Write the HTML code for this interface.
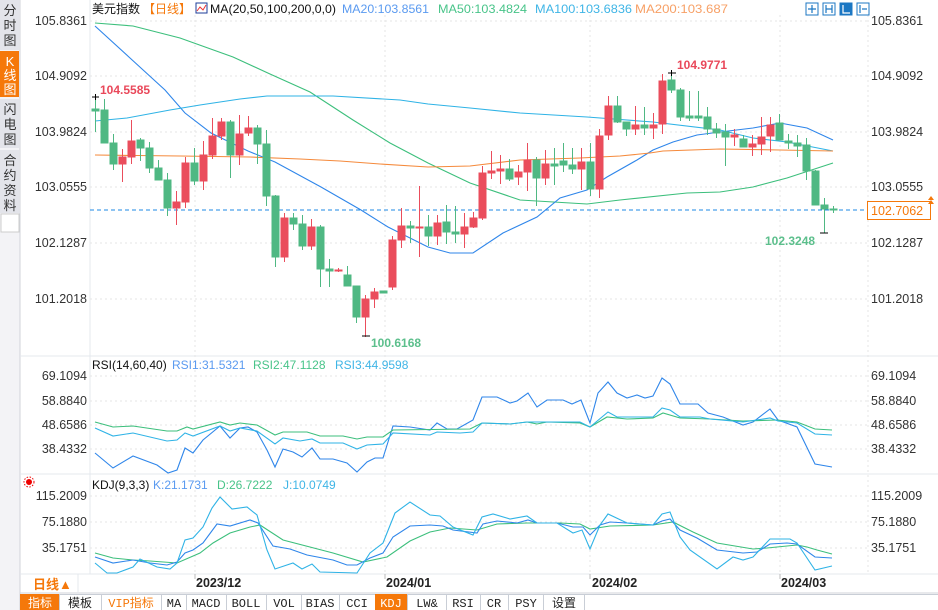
<!DOCTYPE html>
<html><head><meta charset="utf-8"><style>
html,body{margin:0;padding:0;background:#fff;}
body{width:938px;height:610px;overflow:hidden;position:relative;font-family:"Liberation Sans","Noto Sans CJK SC",sans-serif;}
svg{position:absolute;left:0;top:0;}
</style></head><body>
<svg width="938" height="610" viewBox="0 0 938 610" xmlns="http://www.w3.org/2000/svg" font-family="Liberation Sans, Noto Sans CJK SC, sans-serif">
<!-- sidebar -->
<rect x="0" y="0" width="20" height="610" fill="#f3f3f6"/>
<rect x="0" y="0" width="19" height="50" fill="#e3e4ea"/>
<rect x="0" y="51" width="19" height="46" fill="#f5780a"/>
<rect x="0" y="99" width="19" height="49" fill="#e3e4ea"/>
<rect x="0" y="150" width="19" height="63" fill="#e3e4ea"/>
<rect x="1" y="214" width="18" height="18" fill="#fff" stroke="#ccc"/>
<g font-size="13" fill="#333" text-anchor="middle">
<text x="10" y="15">分</text><text x="10" y="30">时</text><text x="10" y="45">图</text>
<text x="10" y="66" fill="#fff">K</text><text x="10" y="80" fill="#fff">线</text><text x="10" y="94" fill="#fff">图</text>
<text x="10" y="114">闪</text><text x="10" y="129">电</text><text x="10" y="144">图</text>
<text x="10" y="165">合</text><text x="10" y="180">约</text><text x="10" y="195">资</text><text x="10" y="210">料</text>
</g>
<line x1="20" y1="0" x2="20" y2="610" stroke="#d0d3da"/>
<!-- panel frames -->
<line x1="90" y1="0" x2="90" y2="574" stroke="#e4e8ee"/>
<line x1="20" y1="356" x2="938" y2="356" stroke="#e4e8ee"/>
<line x1="20" y1="474" x2="938" y2="474" stroke="#e4e8ee"/>
<line x1="20" y1="574" x2="938" y2="574" stroke="#e4e8ee"/>
<line x1="20" y1="593" x2="938" y2="593" stroke="#d0d3da"/>
<line x1="78" y1="574" x2="78" y2="593" stroke="#e4e8ee"/>
<!-- grid -->
<g stroke="#e6e6e6" stroke-dasharray="2,3">
<line x1="90" y1="21" x2="868" y2="21"/><line x1="90" y1="76" x2="868" y2="76"/><line x1="90" y1="132" x2="868" y2="132"/><line x1="90" y1="187" x2="868" y2="187"/><line x1="90" y1="243" x2="868" y2="243"/><line x1="90" y1="299" x2="868" y2="299"/>
<line x1="90" y1="376" x2="868" y2="376"/><line x1="90" y1="401" x2="868" y2="401"/><line x1="90" y1="425" x2="868" y2="425"/><line x1="90" y1="449" x2="868" y2="449"/>
<line x1="90" y1="496" x2="868" y2="496"/><line x1="90" y1="522" x2="868" y2="522"/><line x1="90" y1="548" x2="868" y2="548"/>
<line x1="195" y1="15" x2="195" y2="574"/><line x1="385" y1="15" x2="385" y2="574"/><line x1="590" y1="15" x2="590" y2="574"/><line x1="780" y1="15" x2="780" y2="574"/>
<line x1="868" y1="15" x2="868" y2="574"/>
</g>
<!-- axis labels -->
<g font-size="12.5" fill="#333">
<g text-anchor="end">
<text x="87" y="25">105.8361</text><text x="87" y="80">104.9092</text><text x="87" y="136">103.9824</text><text x="87" y="191">103.0555</text><text x="87" y="247">102.1287</text><text x="87" y="303">101.2018</text>
<text x="87" y="380">69.1094</text><text x="87" y="405">58.8840</text><text x="87" y="429">48.6586</text><text x="87" y="453">38.4332</text>
<text x="87" y="500">115.2009</text><text x="87" y="526">75.1880</text><text x="87" y="552">35.1751</text>
</g>
<text x="871" y="25">105.8361</text><text x="871" y="80">104.9092</text><text x="871" y="136">103.9824</text><text x="871" y="191">103.0555</text><text x="871" y="247">102.1287</text><text x="871" y="303">101.2018</text>
<text x="871" y="380">69.1094</text><text x="871" y="405">58.8840</text><text x="871" y="429">48.6586</text><text x="871" y="453">38.4332</text>
<text x="871" y="500">115.2009</text><text x="871" y="526">75.1880</text><text x="871" y="552">35.1751</text>
</g>
<!-- header -->
<g font-size="12">
<text x="92" y="13" fill="#111">美元指数</text>
<text x="143" y="13" fill="#f5780a">【日线】</text>
<rect x="196" y="3" width="11" height="10" fill="#fff" stroke="#1e3c9a"/>
<polyline points="197,11 200,7 203,10 206,5" fill="none" stroke="#e33" stroke-width="1"/>
<text x="210" y="13" fill="#111" textLength="126" lengthAdjust="spacingAndGlyphs">MA(20,50,100,200,0,0)</text>
<text x="342" y="13" fill="#5a9af0" textLength="87" lengthAdjust="spacingAndGlyphs">MA20:103.8561</text>
<text x="438" y="13" fill="#48c489" textLength="89" lengthAdjust="spacingAndGlyphs">MA50:103.4824</text>
<text x="535" y="13" fill="#3fb5e6" textLength="97" lengthAdjust="spacingAndGlyphs">MA100:103.6836</text>
<text x="635" y="13" fill="#f7a066" textLength="93" lengthAdjust="spacingAndGlyphs">MA200:103.687</text>
</g>
<g fill="#fff" stroke="#1c77c3">
<rect x="806" y="3" width="12" height="12"/><rect x="823" y="3" width="12" height="12"/><rect x="840" y="3" width="12" height="12" fill="#1c77c3"/><rect x="857" y="3" width="12" height="12"/>
</g>
<g stroke="#1c77c3" stroke-width="1.2" fill="none"><path d="M812 5v8M808 9h8"/><path d="M826 5v8M832 5v8M826 9h6"/><path d="M843 5v8h7" stroke="#fff"/><path d="M860 5v8M862 9h5"/></g>
<g font-size="12">
<text x="92" y="369" fill="#111">RSI(14,60,40)</text>
<text x="172" y="369" fill="#5a9af0">RSI1:31.5321</text>
<text x="253" y="369" fill="#48c489">RSI2:47.1128</text>
<text x="335" y="369" fill="#3fb5e6">RSI3:44.9598</text>
<text x="92" y="489" fill="#111">KDJ(9,3,3)</text>
<text x="153" y="489" fill="#5a9af0">K:21.1731</text>
<text x="217" y="489" fill="#48c489">D:26.7222</text>
<text x="283" y="489" fill="#3fb5e6">J:10.0749</text>
</g>
<circle cx="29" cy="482" r="3" fill="#e00"/><circle cx="29" cy="482" r="5" fill="none" stroke="#e00" stroke-dasharray="1.5,1.5"/>
<!-- MA lines -->
<g fill="none" stroke-width="1.1">
<polyline stroke="#3cbf7c" points="95,23 133,26 180,38 233,57 270,74 310,92 353,120 390,143 428,163 470,183 520,200 587,204 620,200 687,193 720,192 753,187 787,178 833,163"/>
<polyline stroke="#2f86ea" points="95,26 130,58 165,90 185,113 211,133 248,151 275,162 321,187 361,210 388,227 428,247 450,253 473,253 503,233 537,217 560,198 587,190 607,177 637,160 653,150 673,142 697,135 720,132 753,128 780,123 807,128 833,140"/>
<polyline stroke="#2fb3e6" points="95,121 127,118 170,110 200,105 240,99 267,96 333,96 400,100 428,104 470,108 520,113 587,117 653,122 720,130 753,138 787,142 833,151"/>
<polyline stroke="#f58a3c" points="95,155 180,156 250,157 300,159 340,161 380,164 428,167 470,166 520,160 580,158 620,156 650,153 663,151 720,149 780,150 833,151"/>
</g>
<line x1="90" y1="210" x2="868" y2="210" stroke="#1e88e5" stroke-dasharray="4,3"/>
<!-- candles -->
<g stroke-width="1">
<g fill="#4fb883" stroke="#4fb883">
<line x1="95.5" y1="97" x2="95.5" y2="132"/><rect x="92" y="109" width="7" height="2"/>
<line x1="104.5" y1="99" x2="104.5" y2="143"/><rect x="101" y="110" width="7" height="33"/>
<line x1="113.5" y1="134" x2="113.5" y2="170"/><rect x="110" y="143" width="7" height="21"/>
<line x1="140.5" y1="138" x2="140.5" y2="161"/><rect x="137" y="140" width="7" height="8"/>
<line x1="149.5" y1="142" x2="149.5" y2="173"/><rect x="146" y="148" width="7" height="20"/>
<line x1="158.5" y1="160" x2="158.5" y2="180"/><rect x="155" y="168" width="7" height="12"/>
<line x1="167.5" y1="173" x2="167.5" y2="216"/><rect x="164" y="180" width="7" height="28"/>
<line x1="194.5" y1="148" x2="194.5" y2="185"/><rect x="191" y="163" width="7" height="18"/>
<line x1="230.5" y1="120" x2="230.5" y2="178"/><rect x="227" y="122" width="7" height="33"/>
<line x1="257.5" y1="125" x2="257.5" y2="164"/><rect x="254" y="128" width="7" height="16"/>
<line x1="266.5" y1="130" x2="266.5" y2="206"/><rect x="263" y="144" width="7" height="52"/>
<line x1="275.5" y1="195" x2="275.5" y2="267"/><rect x="272" y="196" width="7" height="61"/>
<line x1="293.5" y1="213" x2="293.5" y2="230"/><rect x="290" y="218" width="7" height="6"/>
<line x1="302.5" y1="215" x2="302.5" y2="250"/><rect x="299" y="224" width="7" height="22"/>
<line x1="320.5" y1="225" x2="320.5" y2="287"/><rect x="317" y="227" width="7" height="42"/>
<line x1="329.5" y1="259" x2="329.5" y2="287"/><rect x="326" y="269" width="7" height="2"/>
<line x1="347.5" y1="266" x2="347.5" y2="286"/><rect x="344" y="275" width="7" height="11"/>
<line x1="356.5" y1="286" x2="356.5" y2="323"/><rect x="353" y="286" width="7" height="31"/>
<rect x="380" y="291" width="7" height="2"/>
<line x1="410.5" y1="221" x2="410.5" y2="243"/><rect x="407" y="226" width="7" height="2"/>
<line x1="428.5" y1="215" x2="428.5" y2="246"/><rect x="425" y="227" width="7" height="9"/>
<line x1="446.5" y1="205" x2="446.5" y2="244"/><rect x="443" y="222" width="7" height="10"/>
<line x1="455.5" y1="206" x2="455.5" y2="243"/><rect x="452" y="232" width="7" height="2"/>
<line x1="509.5" y1="159" x2="509.5" y2="181"/><rect x="506" y="169" width="7" height="10"/>
<line x1="536.5" y1="157" x2="536.5" y2="206"/><rect x="533" y="160" width="7" height="18"/>
<line x1="554.5" y1="148" x2="554.5" y2="185"/><rect x="551" y="164" width="7" height="2"/>
<line x1="563.5" y1="143" x2="563.5" y2="172"/><rect x="560" y="161" width="7" height="4"/>
<line x1="572.5" y1="148" x2="572.5" y2="174"/><rect x="569" y="165" width="7" height="4"/>
<line x1="590.5" y1="143" x2="590.5" y2="196"/><rect x="587" y="162" width="7" height="27"/>
<line x1="617.5" y1="96" x2="617.5" y2="123"/><rect x="614" y="106" width="7" height="16"/>
<line x1="626.5" y1="122" x2="626.5" y2="136"/><rect x="623" y="122" width="7" height="7"/>
<line x1="644.5" y1="107" x2="644.5" y2="135"/><rect x="641" y="125" width="7" height="3"/>
<line x1="671.5" y1="73" x2="671.5" y2="93"/><rect x="668" y="80" width="7" height="10"/>
<line x1="680.5" y1="88" x2="680.5" y2="121"/><rect x="677" y="90" width="7" height="27"/>
<line x1="689.5" y1="91" x2="689.5" y2="121"/><rect x="686" y="116" width="7" height="2"/>
<line x1="698.5" y1="91" x2="698.5" y2="121"/><rect x="695" y="116" width="7" height="2"/>
<line x1="707.5" y1="107" x2="707.5" y2="135"/><rect x="704" y="117" width="7" height="12"/>
<line x1="716.5" y1="123" x2="716.5" y2="138"/><rect x="713" y="129" width="7" height="4"/>
<line x1="725.5" y1="124" x2="725.5" y2="166"/><rect x="722" y="132" width="7" height="5"/>
<line x1="743.5" y1="135" x2="743.5" y2="147"/><rect x="740" y="139" width="7" height="8"/>
<line x1="779.5" y1="114" x2="779.5" y2="140"/><rect x="776" y="123" width="7" height="17"/>
<line x1="788.5" y1="134" x2="788.5" y2="149"/><rect x="785" y="141" width="7" height="2"/>
<line x1="797.5" y1="135" x2="797.5" y2="157"/><rect x="794" y="143" width="7" height="3"/>
<line x1="806.5" y1="138" x2="806.5" y2="180"/><rect x="803" y="145" width="7" height="26"/>
<line x1="815.5" y1="170" x2="815.5" y2="205"/><rect x="812" y="171" width="7" height="34"/>
<line x1="824.5" y1="198" x2="824.5" y2="233"/><rect x="821" y="205" width="7" height="4"/>
<line x1="833.5" y1="206" x2="833.5" y2="213"/><rect x="830" y="209" width="7" height="1"/>
</g>
<g fill="#ea4d5c" stroke="#ea4d5c">
<line x1="122.5" y1="149" x2="122.5" y2="182"/><rect x="119" y="157" width="7" height="7"/>
<line x1="131.5" y1="120" x2="131.5" y2="164"/><rect x="128" y="141" width="7" height="16"/>
<line x1="176.5" y1="191" x2="176.5" y2="225"/><rect x="173" y="202" width="7" height="6"/>
<line x1="185.5" y1="157" x2="185.5" y2="208"/><rect x="182" y="163" width="7" height="39"/>
<line x1="203.5" y1="141" x2="203.5" y2="190"/><rect x="200" y="155" width="7" height="26"/>
<line x1="212.5" y1="118" x2="212.5" y2="159"/><rect x="209" y="136" width="7" height="19"/>
<line x1="221.5" y1="118" x2="221.5" y2="140"/><rect x="218" y="122" width="7" height="14"/>
<line x1="239.5" y1="115" x2="239.5" y2="165"/><rect x="236" y="134" width="7" height="21"/>
<line x1="248.5" y1="116" x2="248.5" y2="136"/><rect x="245" y="128" width="7" height="5"/>
<line x1="284.5" y1="213" x2="284.5" y2="262"/><rect x="281" y="218" width="7" height="39"/>
<line x1="311.5" y1="219" x2="311.5" y2="250"/><rect x="308" y="227" width="7" height="19"/>
<line x1="338.5" y1="268" x2="338.5" y2="272"/><rect x="335" y="270" width="7" height="1"/>
<line x1="365.5" y1="295" x2="365.5" y2="337"/><rect x="362" y="299" width="7" height="18"/>
<line x1="374.5" y1="288" x2="374.5" y2="308"/><rect x="371" y="292" width="7" height="7"/>
<line x1="392.5" y1="236" x2="392.5" y2="290"/><rect x="389" y="240" width="7" height="47"/>
<line x1="401.5" y1="208" x2="401.5" y2="248"/><rect x="398" y="226" width="7" height="14"/>
<line x1="419.5" y1="186" x2="419.5" y2="257"/><rect x="416" y="227" width="7" height="1"/>
<line x1="437.5" y1="215" x2="437.5" y2="245"/><rect x="434" y="223" width="7" height="13"/>
<line x1="464.5" y1="213" x2="464.5" y2="248"/><rect x="461" y="227" width="7" height="7"/>
<line x1="473.5" y1="212" x2="473.5" y2="228"/><rect x="470" y="218" width="7" height="9"/>
<line x1="482.5" y1="166" x2="482.5" y2="220"/><rect x="479" y="173" width="7" height="45"/>
<line x1="491.5" y1="151" x2="491.5" y2="179"/><rect x="488" y="171" width="7" height="2"/>
<line x1="500.5" y1="155" x2="500.5" y2="184"/><rect x="497" y="169" width="7" height="2"/>
<line x1="518.5" y1="165" x2="518.5" y2="185"/><rect x="515" y="172" width="7" height="5"/>
<line x1="527.5" y1="143" x2="527.5" y2="191"/><rect x="524" y="160" width="7" height="12"/>
<line x1="545.5" y1="150" x2="545.5" y2="185"/><rect x="542" y="164" width="7" height="14"/>
<line x1="581.5" y1="148" x2="581.5" y2="190"/><rect x="578" y="162" width="7" height="7"/>
<line x1="599.5" y1="129" x2="599.5" y2="198"/><rect x="596" y="136" width="7" height="53"/>
<line x1="608.5" y1="96" x2="608.5" y2="140"/><rect x="605" y="106" width="7" height="29"/>
<line x1="635.5" y1="106" x2="635.5" y2="135"/><rect x="632" y="125" width="7" height="4"/>
<line x1="653.5" y1="113" x2="653.5" y2="139"/><rect x="650" y="125" width="7" height="3"/>
<line x1="662.5" y1="74" x2="662.5" y2="134"/><rect x="659" y="81" width="7" height="43"/>
<line x1="734.5" y1="129" x2="734.5" y2="146"/><rect x="731" y="135" width="7" height="2"/>
<line x1="752.5" y1="135" x2="752.5" y2="156"/><rect x="749" y="144" width="7" height="3"/>
<line x1="761.5" y1="117" x2="761.5" y2="155"/><rect x="758" y="137" width="7" height="7"/>
<line x1="770.5" y1="117" x2="770.5" y2="152"/><rect x="767" y="125" width="7" height="11"/>
</g>
</g>
<!-- markers -->
<g stroke="#000" stroke-width="1"><path d="M92 97h7M95.5 94v6"/><path d="M362 336h8"/><path d="M668 73h8M671.5 70v6"/><path d="M820 233h8"/></g>
<g font-size="12" font-weight="bold">
<text x="100" y="94" fill="#e9485a">104.5585</text>
<text x="371" y="347" fill="#5cbf8c">100.6168</text>
<text x="677" y="69" fill="#e9485a">104.9771</text>
<text x="765" y="245" fill="#5cbf8c">102.3248</text>
</g>
<rect x="867.5" y="201.5" width="63" height="18" fill="#fff" stroke="#f5780a"/>
<text x="871" y="215" font-size="12.5" fill="#f5780a">102.7062</text>
<path d="M928 200l3-4 3 4zM928 204l3-4 3 4z" fill="#f5780a"/>
<!-- RSI -->
<g fill="none" stroke-width="1.1">
<polyline stroke="#2f86ea" points="95,453 113,468 133,456 157,465 168,473 177,470 185,448 193,453 203,440 220,426 230,438 240,428 248,427 257,432 267,450 275,467 283,449 293,452 302,457 312,448 320,459 333,459 347,463 357,472 367,462 375,458 383,458 393,426 410,427 430,430 437,423 447,429 457,429 473,420 482,397 497,397 510,403 517,401 528,393 537,407 547,400 563,400 572,404 581,400 590,423 598,393 608,382 617,393 627,398 637,395 645,398 653,396 662,378 670,384 680,404 698,404 708,413 723,417 743,425 753,422 770,409 778,420 797,427 815,464 832,467"/>
<polyline stroke="#3cbf7c" points="95,422 113,427 133,426 167,431 177,431 187,427 193,429 220,422 230,425 240,423 257,425 275,435 283,432 307,432 320,436 343,436 357,439 367,437 383,437 393,430 470,429 482,423 510,424 527,422 537,424 547,422 580,423 590,427 607,417 627,419 653,418 663,413 680,418 710,419 743,421 777,420 797,422 815,429 832,430"/>
<polyline stroke="#2fb3e6" points="95,428 113,436 133,433 167,441 177,440 185,433 193,436 220,426 230,431 240,428 257,431 275,444 283,438 300,441 312,439 320,443 343,443 357,449 367,445 383,444 393,433 430,435 437,432 460,433 473,432 482,423 510,424 527,422 580,422 590,427 608,412 617,417 653,417 662,408 670,410 680,417 700,417 710,419 743,422 770,418 778,421 797,423 815,434 832,435"/>
</g>
<!-- KDJ -->
<g fill="none" stroke-width="1.1">
<polyline stroke="#3cbf7c" points="95,553 113,558 133,560 150,561 177,563 200,553 213,543 230,533 250,527 260,525 283,540 333,553 363,562 387,557 410,541 430,532 450,528 477,530 497,524 527,523 560,523 580,524 590,529 610,526 653,525 673,522 693,532 717,543 753,549 767,548 797,545 807,547 817,550 832,554"/>
<polyline stroke="#2f86ea" points="95,557 113,563 133,560 150,563 167,565 177,562 185,553 193,550 203,543 217,524 230,526 250,520 258,523 273,546 290,549 307,555 333,560 347,565 357,565 370,558 383,553 393,537 410,526 430,525 443,526 453,530 477,533 483,524 497,521 517,523 528,520 537,523 557,523 573,527 583,527 590,535 600,525 610,522 627,523 640,524 653,525 662,521 670,519 680,530 697,538 717,550 743,553 757,552 770,544 787,543 797,544 815,557 832,558"/>
<polyline stroke="#2fb3e6" points="95,563 107,573 117,573 133,567 140,559 157,567 170,569 177,563 185,540 193,538 203,527 212,508 220,497 232,509 247,507 257,515 267,550 275,569 293,563 302,569 312,564 320,572 357,573 370,553 383,543 395,513 410,502 430,515 440,516 453,527 473,535 482,517 493,514 510,519 527,516 537,523 557,523 573,533 582,530 590,549 600,525 608,514 627,523 653,525 662,514 670,512 680,537 690,550 717,569 733,557 743,560 753,557 770,539 790,539 797,543 815,570 832,566"/>
</g>
<!-- date axis -->
<g font-size="12.5" font-weight="bold" fill="#222">
<text x="196" y="587">2023/12</text><text x="386" y="587">2024/01</text><text x="592" y="587">2024/02</text><text x="781" y="587">2024/03</text>
</g>
<g stroke="#bbb"><path d="M195 574v5M385 574v5M590 574v5M780 574v5"/></g>
<text x="33" y="589" font-size="13" font-weight="bold" fill="#f5780a">日线▲</text>
<!-- toolbar -->
<rect x="20" y="594" width="918" height="16" fill="#fff"/>
<g stroke="#c9ced6" fill="#fff">
<rect x="59.5" y="594.5" width="42" height="16"/><rect x="101.5" y="594.5" width="60" height="16"/><rect x="161.5" y="594.5" width="25" height="16"/><rect x="186.5" y="594.5" width="40" height="16"/><rect x="226.5" y="594.5" width="40" height="16"/><rect x="266.5" y="594.5" width="35" height="16"/><rect x="301.5" y="594.5" width="38" height="16"/><rect x="339.5" y="594.5" width="36" height="16"/><rect x="407.5" y="594.5" width="39" height="16"/><rect x="446.5" y="594.5" width="34" height="16"/><rect x="480.5" y="594.5" width="28" height="16"/><rect x="508.5" y="594.5" width="35" height="16"/><rect x="543.5" y="594.5" width="41" height="16"/><rect x="584.5" y="594.5" width="360" height="16"/>
</g>
<rect x="20" y="594" width="39" height="16" fill="#f5780a"/>
<rect x="375" y="594" width="32" height="16" fill="#f5780a"/>
<g font-size="12" text-anchor="middle" fill="#222" font-family="Liberation Mono, Noto Sans CJK SC, monospace">
<text x="40" y="607" fill="#fff" font-family="Liberation Sans, Noto Sans CJK SC, sans-serif">指标</text>
<text x="80" y="607" font-family="Liberation Sans, Noto Sans CJK SC, sans-serif">模板</text>
<text x="131" y="607" fill="#f5780a">VIP指标</text>
<text x="174" y="607">MA</text><text x="206" y="607">MACD</text><text x="246" y="607">BOLL</text><text x="284" y="607">VOL</text><text x="320" y="607">BIAS</text><text x="357" y="607">CCI</text>
<text x="391" y="607" fill="#fff">KDJ</text><text x="427" y="607">LW&amp;</text><text x="463" y="607">RSI</text><text x="494" y="607">CR</text><text x="526" y="607">PSY</text>
<text x="564" y="607" font-family="Liberation Sans, Noto Sans CJK SC, sans-serif">设置</text>
</g>
</svg>
</body></html>
